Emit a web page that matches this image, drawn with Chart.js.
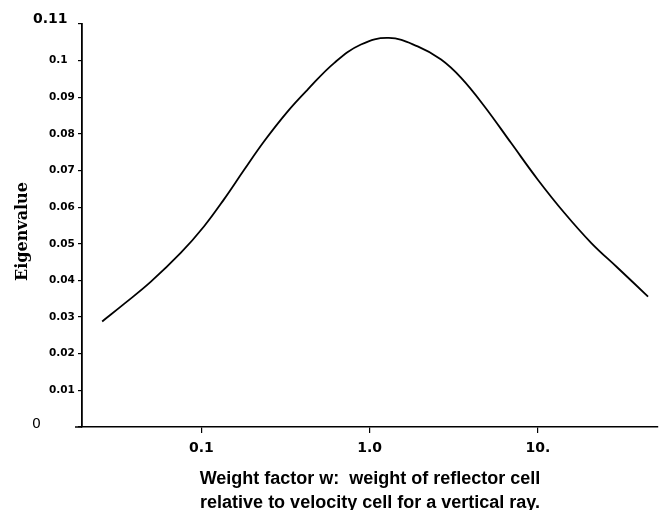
<!DOCTYPE html>
<html>
<head>
<meta charset="utf-8">
<script src="https://cdn.jsdelivr.net/npm/chart.js@4/dist/chart.umd.min.js"></script>
<style>
  html, body { margin: 0; padding: 0; background: #ffffff; }
  #wrap { width: 665px; height: 510px; }
</style>
</head>
<body>
<div id="wrap"><canvas id="c" width="665" height="510"></canvas></div>
<script>
// ---- data ----
const weights = [0.0257, 0.0347, 0.0499, 0.0753, 0.1038, 0.1365, 0.1795, 0.236, 0.325, 0.428, 0.617, 0.888,
                 1.30, 1.93, 2.66, 3.50, 4.82, 6.94, 10.0, 14.4, 20.8, 29.9, 45.2];
const eigenvalues = [0.0288, 0.0336, 0.0396, 0.0475, 0.0548, 0.0622, 0.0702, 0.0780, 0.0861, 0.0921, 0.0994, 0.1044,
                     0.1062, 0.1039, 0.1003, 0.0953, 0.0875, 0.0775, 0.0675, 0.0584, 0.0502, 0.0434, 0.0356];
const xTickValues = [0.1, 1, 10];
const xTickLabels = ['0.1', '1.0', '10.'];
const yMin = 0, yMax = 0.11, yStep = 0.01;
const yTitle = 'Eigenvalue';
const xTitle = ['Weight factor w:  weight of reflector cell', 'relative to velocity cell for a vertical ray.'];
const yEndLabels = [{ value: 0.11, text: '0.11', font: 'bold 14px "DejaVu Sans"', dx: -49 },
                    { value: 0, text: '0', font: '14px "DejaVu Sans"', dx: -50 }];

const points = weights.map((w, i) => ({ x: w, y: eigenvalues[i] }));

const extras = {
  id: 'extras',
  afterDraw(chart) {
    const ctx = chart.ctx;
    const ca = chart.chartArea;
    const ys = chart.scales.y;
    ctx.save();
    // x-axis line extends slightly left of the y axis
    ctx.strokeStyle = '#000';
    ctx.lineWidth = 1.5;
    ctx.beginPath();
    ctx.moveTo(ca.left - 7, ca.bottom);
    ctx.lineTo(ca.left, ca.bottom);
    ctx.stroke();
    // large end labels on y axis
    ctx.fillStyle = '#000';
    ctx.textAlign = 'left';
    ctx.textBaseline = 'alphabetic';
    yEndLabels.forEach(l => {
      ctx.font = l.font;
      const py = ys.getPixelForValue(l.value);
      ctx.fillText(l.text, ca.left + l.dx, l.value === 0 ? py + 1 : py - 1);
    });
    // y title
    ctx.font = 'bold 16px "DejaVu Serif"';
    ctx.textAlign = 'center';
    ctx.textBaseline = 'alphabetic';
    ctx.translate(27, (ca.top + ca.bottom) / 2 + 6);
    ctx.rotate(-Math.PI / 2);
    ctx.fillText(yTitle, 0, 0);
    ctx.restore();
  }
};

new Chart(document.getElementById('c'), {
  type: 'line',
  data: {
    datasets: [{
      data: points,
      borderColor: '#000',
      borderWidth: 1.8,
      pointRadius: 0,
      fill: false,
      tension: 0.4
    }]
  },
  options: {
    responsive: false,
    animation: false,
    devicePixelRatio: 1,
    layout: { padding: { top: 24, right: 7, left: 49, bottom: 0 } },
    plugins: { legend: { display: false }, tooltip: { enabled: false }, title: { display: false } },
    scales: {
      x: {
        type: 'logarithmic',
        min: 0.0195,
        max: 51.8,
        afterBuildTicks(scale) { scale.ticks = xTickValues.map(v => ({ value: v, major: true })); },
        afterFit(scale) { scale.height = 83; },
        ticks: {
          autoSkip: false,
          maxRotation: 0,
          padding: 7,
          color: '#000',
          font: { family: '"DejaVu Sans"', size: 14, weight: 'bold' },
          callback(v) {
            const i = xTickValues.findIndex(t => Math.abs(t - v) < 1e-9);
            return i >= 0 ? xTickLabels[i] : '';
          }
        },
        grid: { display: true, drawOnChartArea: false, drawTicks: true, tickLength: 6, color: '#000', lineWidth: 1.2 },
        border: { display: true, color: '#000', width: 1.5 },
        title: {
          display: true,
          text: xTitle,
          color: '#000',
          font: { family: '"Liberation Sans"', size: 18, weight: 'bold', lineHeight: 1.33 },
          padding: { top: 0, bottom: -5 }
        }
      },
      y: {
        type: 'linear',
        min: yMin,
        max: yMax,
        afterFit(scale) { scale.width = 33; },
        ticks: {
          stepSize: yStep,
          crossAlign: 'far',
          padding: 6,
          color: '#000',
          font: { family: '"DejaVu Sans"', size: 10.5, weight: 'bold' },
          callback(v) {
            const r = Math.round(v * 100) / 100;
            if (r === 0 || Math.abs(r - 0.11) < 1e-9) return '';
            return String(r);
          }
        },
        grid: { display: true, drawOnChartArea: false, drawTicks: true, tickLength: 4, color: '#000', lineWidth: 1.2 },
        border: { display: true, color: '#000', width: 1.8 }
      }
    }
  },
  plugins: [extras]
});
</script>
</body>
</html>
